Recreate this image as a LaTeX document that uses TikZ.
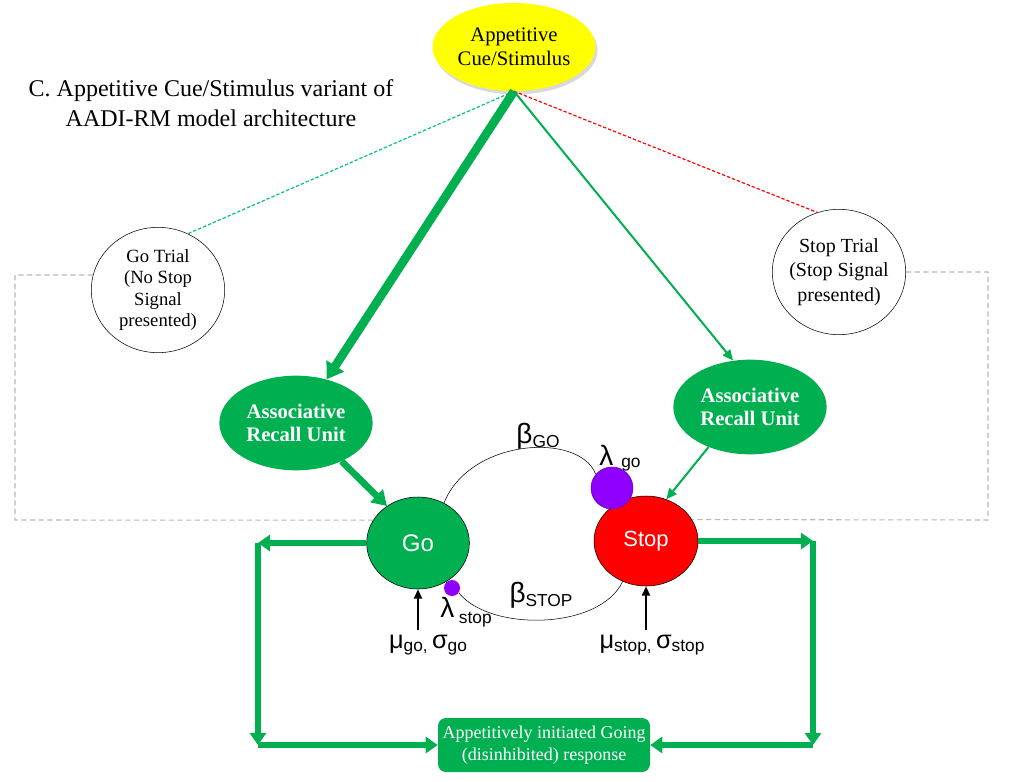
\documentclass[tikz,border=0pt]{standalone}
\usepackage{fontspec}
\setmainfont{Liberation Serif}
\setsansfont{Liberation Sans}
\usepackage{tikz}
\usetikzlibrary{arrows.meta, positioning, shapes.geometric, shadows}
\definecolor{aadigreen}{HTML}{00B050}
\definecolor{aadired}{HTML}{FF0000}
\definecolor{aadiyellow}{HTML}{FFFF00}
\definecolor{aadipurple}{HTML}{8F00FF}
\definecolor{aaditeal}{HTML}{00C47A}
\newcommand{\fsz}[2]{\fontsize{#1}{#2}\selectfont}
\newcommand{\gsub}[2][-3pt]{\raisebox{#1}{\fontsize{13}{14}\selectfont #2}}

\begin{document}
\begin{tikzpicture}[
    x=0.75pt, y=-0.75pt,
    oval/.style={ellipse, inner sep=1pt, align=center},
    unit/.style={oval, fill=aadigreen, text=white, font=\bfseries\fsz{15.5}{17},
        minimum width=115pt, minimum height=71pt},
    trial/.style={oval, draw, thin, minimum width=100pt, minimum height=94pt},
    feed/.style={aadigreen, line width=4.5pt, -{Triangle[width=12pt, length=9pt]}},
    trialline/.style={gray!55, line width=0.8pt, dash pattern=on 4pt off 2.5pt},
    param/.style={font=\sffamily\fsz{21}{24}},
]
    \useasboundingbox (0,0) rectangle (1016,781);

    % cue and title
    \node[oval, fill=aadiyellow, minimum width=116pt, minimum height=66pt, font=\fsz{15.5}{18},
        drop shadow={opacity=0.3, shadow xshift=1.5pt, shadow yshift=-2.5pt}]
        (cue) at (514,47) {Appetitive\\Cue/Stimulus};
    \node[font=\fsz{18}{22.5}, align=center] (title) at (211,103)
        {C. Appetitive Cue/Stimulus variant of\\AADI-RM model architecture};

    % trial types
    \node[trial, font=\fsz{14}{16}] (gotrial) at (158,290) {Go Trial\\(No Stop\\Signal\\presented)};
    \node[trial, font=\fsz{15}{18.5}, inner xsep=-3pt] (stoptrial) at (839,272)
        {Stop Trial\\(Stop Signal\\presented)};

    % recall units
    \node[unit] (unitgo) at (296,423) {Associative\\Recall Unit};
    \node[unit] (unitstop) at (750,407) {Associative\\Recall Unit};

    % race units
    \node[ellipse, draw, fill=aadigreen, text=white, font=\sffamily\fsz{18}{20},
        minimum width=77pt, minimum height=69pt] (go) at (418,543) {Go};
    \node[ellipse, draw, fill=aadired, text=white, font=\sffamily\fsz{16.5}{20},
        minimum width=78pt, minimum height=67.5pt] (stop) at (646,541) {Stop};
    \node[circle, fill=aadipurple, draw=aadipurple!70!black, minimum size=31.5pt, inner sep=0pt]
        (lamgo) at (612,488) {};
    \node[circle, fill=aadipurple, minimum size=12pt, inner sep=0pt] (lamstop) at (452,588) {};

    % response
    \node[rectangle, rounded corners=6pt, fill=aadigreen, text=white, font=\fsz{13.5}{17},
        align=center, minimum width=159pt, minimum height=40.5pt]
        (resp) at (544,745) {Appetitively initiated Going\\(disinhibited) response};

    % parameters
    \node[param] (betago) at (538,436) {β\gsub{GO}};
    \node[param] (betastop) at (541,595) {β\gsub{STOP}};
    \node[param] (lamgolab) at (620,458) {λ\;\gsub[-1pt]{go}};
    \node[param] (lamstoplab) at (466,612) {λ\,\gsub[-4pt]{stop}};
    \node[font=\sffamily\fsz{19}{21}] (mugo) at (428,645) {μ\gsub[-2pt]{go,}\,σ\gsub[-2pt]{go}};
    \node[font=\sffamily\fsz{19}{21}] (mustop) at (652,645) {μ\gsub[-2pt]{stop,}\,σ\gsub[-2pt]{stop}};

    % mutual inhibition
    \draw[thin] (go.57) .. controls (470,438) and (580,432) .. (lamgo.140);
    \draw[thin] (lamstop.-35) .. controls (490,632) and (600,630) .. (stop.240);

    % cue to units
    \draw[aaditeal, line width=0.9pt, dash pattern=on 2.5pt off 1.5pt] (cue.south) -- (gotrial.62);
    \draw[aadired, line width=0.9pt, dash pattern=on 2.5pt off 1.5pt] (cue.south) -- (stoptrial.110);
    \draw[aadigreen, line width=6.5pt, -{Triangle[width=15pt, length=12pt]}] (cue.south) -- (unitgo.55);
    \draw[aadigreen, line width=1.5pt, -{Triangle[width=7pt, length=8pt]}] (cue.south) -- (unitstop.110);
    \draw[aadigreen, line width=5pt, -{Triangle[width=13pt, length=11pt]}] (unitgo.-40) -- (go.130);
    \draw[aadigreen, line width=1.5pt, -{Triangle[width=7pt, length=8pt]}] (unitstop.-136) -- (stop.64);

    % trial routing
    \coordinate (gocorner) at (15,520);
    \coordinate (stopcorner) at (988,520);
    \draw[trialline] (gotrial.167) -| (gocorner) -- (go.153);
    \draw[trialline] (stoptrial.east) -| (stopcorner) -- (stop.25);

    % inputs
    \draw[line width=1.5pt, -{Triangle[width=6pt, length=7pt]}] (mugo.north -| go.south) -- (go.south);
    \draw[line width=1.5pt, -{Triangle[width=6pt, length=7pt]}] (mustop.north -| stop.south) -- (stop.south);

    % outputs
    \coordinate (goturn) at (258,543);
    \coordinate (godrop) at (258,745);
    \coordinate (stopturn) at (813,541);
    \coordinate (stopdrop) at (813,745);
    \draw[feed] (go.west) -- (goturn);
    \draw[feed] (goturn) -- (godrop);
    \draw[feed] (godrop) -- (resp.west);
    \draw[feed] (stop.east) -- (stopturn);
    \draw[feed] (stopturn) -- (stopdrop);
    \draw[feed] (stopdrop) -- (resp.east);
\end{tikzpicture}
\end{document}
